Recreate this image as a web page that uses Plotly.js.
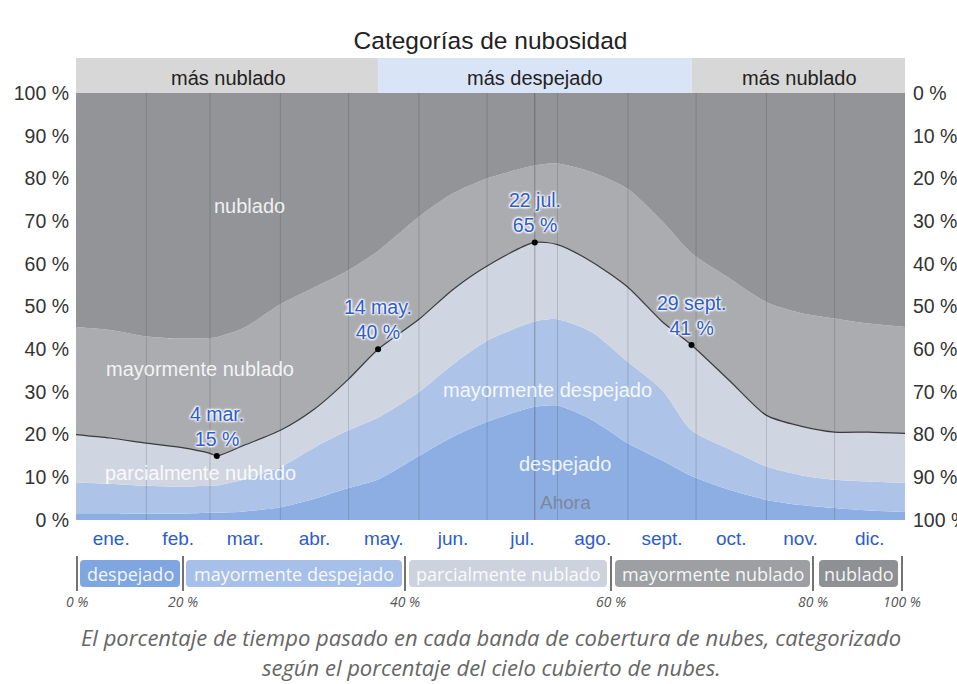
<!DOCTYPE html>
<html>
<head>
<meta charset="utf-8">
<script src="https://cdn.plot.ly/plotly-3.0.1.min.js"></script>
<style>html,body{margin:0;padding:0;background:#fff;}#chart{width:957px;height:684px;}</style>
</head>
<body>
<div id="chart"></div>
<script>
// ---- data (day of year, 0 = 1 Jan) ----
const days = [0,15,31,46,59,62,74,90,105,120,133,151,166,181,202,212,227,243,258,271,288,304,319,334,349,365];
const despejado    = [1.6,1.6,1.5,1.5,1.7,1.7,2.0,3.0,5.0,7.5,9.5,15.0,19.5,23.0,26.5,26.8,23.5,18.0,14.0,10.3,7.0,4.7,3.5,2.8,2.2,1.9];
const mayDespejado = [7.2,6.9,6.5,6.3,6.3,6.4,7.5,9.4,12.0,13.5,14.5,15.0,17.0,19.0,20.0,20.2,20.5,19.0,16.5,10.7,9.5,7.8,7.0,6.6,6.8,6.8];
const parcNublado  = [11.2,10.7,10.0,9.2,7.6,6.9,8.0,8.6,9.0,12.0,16.0,17.0,17.5,17.5,18.5,17.5,16.5,17.5,16.0,20.0,16.0,12.0,11.5,11.2,11.6,11.6];
const mayNublado   = [25.2,25.3,25.0,25.5,27.0,27.8,27.5,29.5,28.5,25.5,23.0,24.0,22.5,20.5,18.0,19.0,21.0,23.0,23.5,21.5,24.0,26.5,26.5,26.6,25.4,24.9];
const nublado      = [54.8,55.5,57.0,57.5,57.4,57.2,55.0,49.5,45.5,41.5,37.0,29.0,23.5,20.0,17.0,16.5,18.5,22.5,30.0,37.5,43.5,49.0,51.5,52.8,54.0,54.8];

const categories = ['despejado','mayormente despejado','parcialmente nublado','mayormente nublado','nublado'];
const monthLabels = ['ene.','feb.','mar.','abr.','may.','jun.','jul.','ago.','sept.','oct.','nov.','dic.'];
const monthStarts = [0,31,59,90,120,151,181,212,243,273,304,334,365];

const hlDays = [62,133,202,271];
const hlValues = [15,40,65,41];
const hlLabels = ['4 mar.','14 may.','22 jul.','29 sept.'];
const ahoraDay = 202;

const yTicks = [0,10,20,30,40,50,60,70,80,90,100];
const yTickText = yTicks.map(v => v + ' %');
const legendPct = ['0 %','20 %','40 %','60 %','80 %','100 %'];

// ---- styling ----
const fillColors = ['#8caee2','#adc4e8','#cfd6e1','#aaacb0','#929497'];
const chipColors = ['#7fa6e0','#a7c0ea','#ccd3de','#9d9fa3','#8e9094'];
const L=76, R=905, T=93, B=520, W=R-L, H=B-T;
const px = v => (v-L)/W;
const py = v => (B-v)/H;
const SANS = 'Liberation Sans, Arial';

const series = [despejado, mayDespejado, parcNublado, mayNublado, nublado];
const traces = series.map((s,i)=>({
  x: days, y: s, type:'scatter', mode:'lines', stackgroup:'one',
  name: categories[i], fillcolor: fillColors[i],
  line: {shape:'spline', smoothing:0.7, width: i===2 ? 1.2 : 0, color: i===2 ? '#3a3a3a' : fillColors[i]},
  hoverinfo:'skip', showlegend:false
}));
traces.push({
  x: hlDays, y: hlValues, type:'scatter', mode:'markers',
  marker:{color:'#000', size:6}, hoverinfo:'skip', showlegend:false
});
traces.push({
  x: [0], y: [0], yaxis:'y2', type:'scatter', mode:'markers',
  marker:{opacity:0}, hoverinfo:'skip', showlegend:false
});

const shapes = [];
monthStarts.slice(1,-1).forEach(d => shapes.push({
  type:'line', xref:'x', yref:'paper', x0:d, x1:d, y0:0, y1:1, layer:'above',
  line:{color:'rgba(40,40,40,0.18)', width:1}
}));
shapes.push({type:'line', xref:'x', yref:'paper', x0:ahoraDay, x1:ahoraDay, y0:0, y1:1, layer:'above',
  line:{color:'rgba(40,40,40,0.35)', width:1}});
const bandY0 = 1, bandY1 = py(58);
shapes.push({type:'rect', xref:'x', yref:'paper', x0:0, x1:hlDays[1], y0:bandY0, y1:bandY1, fillcolor:'#d7d7d7', line:{width:0}});
shapes.push({type:'rect', xref:'x', yref:'paper', x0:hlDays[1], x1:hlDays[3], y0:bandY0, y1:bandY1, fillcolor:'#d9e5f7', line:{width:0}});
shapes.push({type:'rect', xref:'x', yref:'paper', x0:hlDays[3], x1:365, y0:bandY0, y1:bandY1, fillcolor:'#d7d7d7', line:{width:0}});

const chipX = [[80,180],[186,402],[409,607],[615,810],[819,898]];
const sepX = [77,183,405,611,813,902];
function rrect(x0,x1,y0,y1,r){
  const a=px(x0), b=px(x1), c=py(y1), d=py(y0), rx=r/W, ry=r/H;
  return `M${a+rx},${c} L${b-rx},${c} Q${b},${c} ${b},${c+ry} L${b},${d-ry} Q${b},${d} ${b-rx},${d} L${a+rx},${d} Q${a},${d} ${a},${d-ry} L${a},${c+ry} Q${a},${c} ${a+rx},${c} Z`;
}
chipX.forEach((c,i)=> shapes.push({type:'path', xref:'paper', yref:'paper', path: rrect(c[0],c[1],560,587,4),
  fillcolor: chipColors[i], line:{width:0}}));
sepX.forEach(x => shapes.push({type:'line', xref:'paper', yref:'paper', x0:px(x), x1:px(x), y0:py(556), y1:py(591),
  line:{color:'#444', width:1.5}}));

const annotations = [];
const whiteFont = {family:SANS, size:20, color:'rgba(255,255,255,0.88)'};
[['nublado',76.6,73.5],['mayormente nublado',54.6,35.4],['parcialmente nublado',54.6,11.0],
 ['mayormente despejado',207.8,30.4],['despejado',215.3,13.1]].forEach(a => annotations.push({
  x:a[1], y:a[2], xref:'x', yref:'y', text:a[0], showarrow:false, xanchor:'center', yanchor:'middle', font:whiteFont
}));
annotations.push({x:215.3, y:4.2, xref:'x', yref:'y', text:'Ahora', showarrow:false, xanchor:'center', yanchor:'middle',
  font:{family:SANS, size:19, color:'rgba(120,125,135,0.8)'}});
hlDays.forEach((d,i)=> annotations.push({
  x:d, y:hlValues[i], xref:'x', yref:'y', text: hlLabels[i] + '<br>' + hlValues[i] + ' %',
  showarrow:false, xanchor:'center', yanchor:'bottom', yshift:4,
  font:{family:SANS, size:19.5, color:'#2e5ccc', shadow:'1px 1px 2px #fff, -1px -1px 2px #fff, 1px -1px 2px #fff, -1px 1px 2px #fff'}
}));
[['más nublado',228],['más despejado',535],['más nublado',799]].forEach(a => annotations.push({
  x:px(a[1]), y:py(78), xref:'paper', yref:'paper', text:a[0], showarrow:false, xanchor:'center', yanchor:'middle',
  font:{family:SANS, size:20, color:'#222'}
}));
chipX.forEach((c,i)=> annotations.push({
  x:px((c[0]+c[1])/2), y:py(573.5), xref:'paper', yref:'paper', text:categories[i], showarrow:false,
  xanchor:'center', yanchor:'middle',
  font:{family:'Open Sans', size:18, color:'rgba(255,255,255,0.92)'}
}));
sepX.forEach((x,i)=> annotations.push({
  x:px(x), y:py(601), xref:'paper', yref:'paper', text:'<i>'+legendPct[i]+'</i>', showarrow:false,
  xanchor:'center', yanchor:'middle',
  font:{family:'Open Sans', size:14, color:'#555'}
}));
annotations.push({x:px(491), y:py(637), xref:'paper', yref:'paper', showarrow:false, xanchor:'center', yanchor:'middle',
  text:'<i>El porcentaje de tiempo pasado en cada banda de cobertura de nubes, categorizado</i>',
  font:{family:'Open Sans', size:22, color:'#666'}});
annotations.push({x:px(491), y:py(667), xref:'paper', yref:'paper', showarrow:false, xanchor:'center', yanchor:'middle',
  text:'<i>según el porcentaje del cielo cubierto de nubes.</i>',
  font:{family:'Open Sans', size:22, color:'#666'}});

const monthMids = monthLabels.map((m,i)=> (monthStarts[i]+monthStarts[i+1])/2);

const layout = {
  width:957, height:684,
  margin:{l:L, r:957-R, t:T, b:684-B},
  paper_bgcolor:'#fff', plot_bgcolor:'#fff',
  title:{text:'Categorías de nubosidad', x:0.5, xref:'paper', y:1-40/684, yanchor:'middle',
    font:{family:SANS, size:24.5, color:'#222'}},
  xaxis:{range:[0,365], tickvals:monthMids, ticktext:monthLabels, showgrid:false, zeroline:false,
    showline:false, ticks:'', ticklabelstandoff:5, tickfont:{family:SANS, size:19, color:'#2e5ccc'}, fixedrange:true},
  yaxis:{range:[0,100], tickvals:yTicks, ticktext:yTickText, showgrid:false, zeroline:false, ticks:'',
    ticklabelstandoff:6, tickfont:{family:SANS, size:19.5, color:'#333'}, fixedrange:true},
  yaxis2:{range:[100,0], overlaying:'y', side:'right', tickvals:yTicks, ticktext:yTickText, showgrid:false,
    zeroline:false, ticks:'', ticklabelstandoff:7, tickfont:{family:SANS, size:19.5, color:'#333'}, fixedrange:true},
  shapes: shapes,
  annotations: annotations,
  showlegend:false
};

Plotly.newPlot('chart', traces, layout, {displayModeBar:false, staticPlot:true});
</script>
</body>
</html>
